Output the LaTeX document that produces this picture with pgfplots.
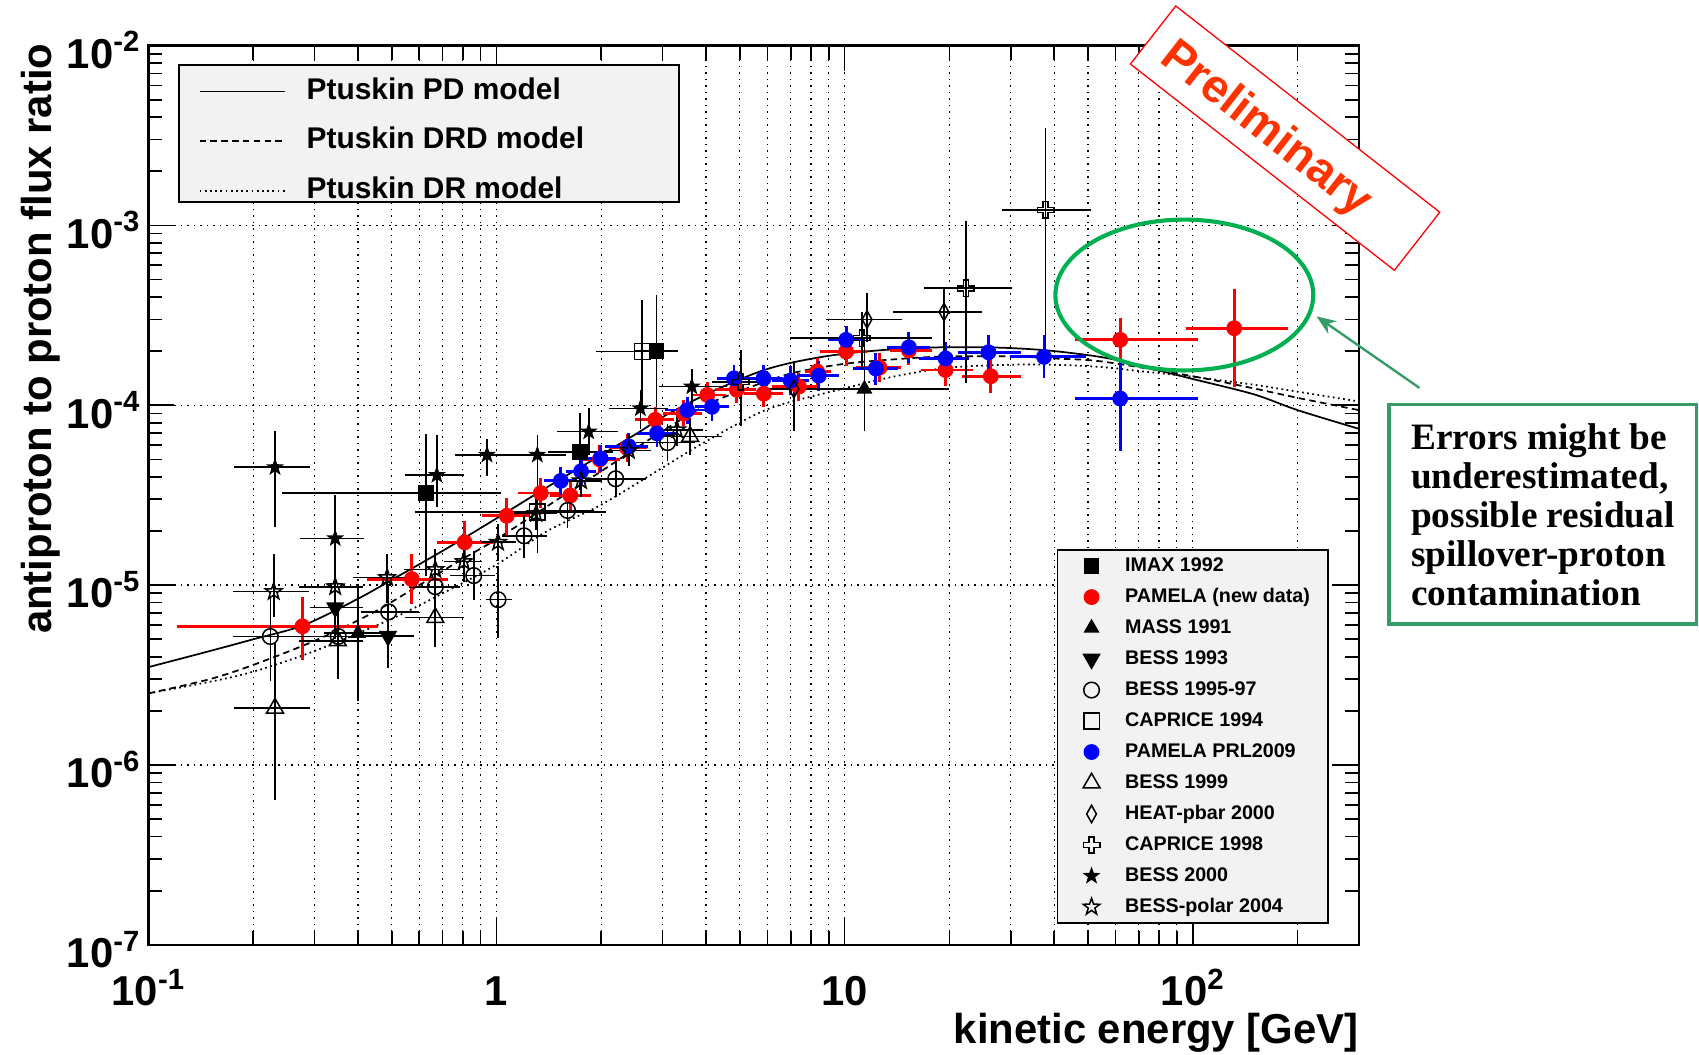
\documentclass[border=0pt]{standalone}
\usepackage{fontspec}
\setmainfont{Liberation Sans}
\newfontfamily\timesf{Liberation Serif}
\usepackage{pgfplots}
\pgfplotsset{compat=1.18}
\usetikzlibrary{arrows.meta}

\definecolor{pamred}{RGB}{255,0,0}
\definecolor{pamblue}{RGB}{0,0,255}
\definecolor{legfill}{RGB}{242,242,242}
\definecolor{ellgreen}{RGB}{0,176,80}
\definecolor{boxgreen}{RGB}{55,155,105}
\definecolor{prelim}{RGB}{255,51,0}

% ROOT-like markers
\def\starpath{%
  \pgfpathmoveto{\pgfqpoint{0pt}{\pgfplotmarksize}}%
  \pgfpathlineto{\pgfqpoint{-0.235\pgfplotmarksize}{0.324\pgfplotmarksize}}%
  \pgfpathlineto{\pgfqpoint{-0.951\pgfplotmarksize}{0.309\pgfplotmarksize}}%
  \pgfpathlineto{\pgfqpoint{-0.380\pgfplotmarksize}{-0.124\pgfplotmarksize}}%
  \pgfpathlineto{\pgfqpoint{-0.588\pgfplotmarksize}{-0.809\pgfplotmarksize}}%
  \pgfpathlineto{\pgfqpoint{0pt}{-0.4\pgfplotmarksize}}%
  \pgfpathlineto{\pgfqpoint{0.588\pgfplotmarksize}{-0.809\pgfplotmarksize}}%
  \pgfpathlineto{\pgfqpoint{0.380\pgfplotmarksize}{-0.124\pgfplotmarksize}}%
  \pgfpathlineto{\pgfqpoint{0.951\pgfplotmarksize}{0.309\pgfplotmarksize}}%
  \pgfpathlineto{\pgfqpoint{0.235\pgfplotmarksize}{0.324\pgfplotmarksize}}%
  \pgfpathclose}
\pgfdeclareplotmark{fstar}{\starpath\pgfusepathqfillstroke}
\pgfdeclareplotmark{ostar}{\starpath\pgfusepathqstroke}
\pgfdeclareplotmark{ocross}{%
  \pgfpathmoveto{\pgfqpoint{0.3\pgfplotmarksize}{\pgfplotmarksize}}%
  \pgfpathlineto{\pgfqpoint{0.3\pgfplotmarksize}{0.3\pgfplotmarksize}}%
  \pgfpathlineto{\pgfqpoint{\pgfplotmarksize}{0.3\pgfplotmarksize}}%
  \pgfpathlineto{\pgfqpoint{\pgfplotmarksize}{-0.3\pgfplotmarksize}}%
  \pgfpathlineto{\pgfqpoint{0.3\pgfplotmarksize}{-0.3\pgfplotmarksize}}%
  \pgfpathlineto{\pgfqpoint{0.3\pgfplotmarksize}{-\pgfplotmarksize}}%
  \pgfpathlineto{\pgfqpoint{-0.3\pgfplotmarksize}{-\pgfplotmarksize}}%
  \pgfpathlineto{\pgfqpoint{-0.3\pgfplotmarksize}{-0.3\pgfplotmarksize}}%
  \pgfpathlineto{\pgfqpoint{-\pgfplotmarksize}{-0.3\pgfplotmarksize}}%
  \pgfpathlineto{\pgfqpoint{-\pgfplotmarksize}{0.3\pgfplotmarksize}}%
  \pgfpathlineto{\pgfqpoint{-0.3\pgfplotmarksize}{0.3\pgfplotmarksize}}%
  \pgfpathlineto{\pgfqpoint{-0.3\pgfplotmarksize}{\pgfplotmarksize}}%
  \pgfpathclose\pgfusepathqstroke}

\pgfplotsset{
  /pgfplots/table/lohi/.style={x=x, y=y,
    x error plus expr=\thisrow{xh}-\thisrow{x},
    x error minus expr=\thisrow{x}-\thisrow{xl},
    y error plus expr=\thisrow{yh}-\thisrow{y},
    y error minus expr=\thisrow{y}-\thisrow{yl}},
  dset/.style={only marks, line width=0.7pt,
    error bars/x dir=both, error bars/y dir=both,
    error bars/x explicit, error bars/y explicit,
    error bars/error bar style={line width=0.75pt},
    error bars/error mark options={mark size=2.2pt, line width=0.75pt}},
  pset/.style={dset,
    error bars/error bar style={line width=1.3pt},
    error bars/error mark options={mark size=2.6pt, line width=1.3pt}},
}

\begin{document}
\begin{tikzpicture}
\useasboundingbox (-68.5pt,-50.5pt) rectangle (715.5pt,436pt);

\begin{axis}[at={(0pt,0pt)}, anchor=south west,
  width=558.5pt, height=415pt, scale only axis,
  xmode=log, ymode=log, xmin=0.1, xmax=300, ymin=1e-7, ymax=1e-2,
  axis line style={line width=1pt},
  tick style={line width=0.8pt, black},
  major tick length=12pt, minor tick length=6.5pt,
  tick pos=both, tick align=inside,
  xtick={0.1,1,10,100},
  xticklabels={10\textsuperscript{-1},1,10,10\textsuperscript{2}},
  minor xtick={0.2,0.3,0.4,0.5,0.6,0.7,0.8,0.9,2,3,4,5,6,7,8,9,20,30,40,50,60,70,80,90,200},
  ytick={1e-7,1e-6,1e-5,1e-4,1e-3,1e-2},
  yticklabels={10\textsuperscript{-7},10\textsuperscript{-6},10\textsuperscript{-5},10\textsuperscript{-4},10\textsuperscript{-3},10\textsuperscript{-2}},
  minor ytick={2e-7,3e-7,4e-7,5e-7,6e-7,7e-7,8e-7,9e-7,
               2e-6,3e-6,4e-6,5e-6,6e-6,7e-6,8e-6,9e-6,
               2e-5,3e-5,4e-5,5e-5,6e-5,7e-5,8e-5,9e-5,
               2e-4,3e-4,4e-4,5e-4,6e-4,7e-4,8e-4,9e-4,
               2e-3,3e-3,4e-3,5e-3,6e-3,7e-3,8e-3,9e-3},
  xmajorgrids, xminorgrids, ymajorgrids, yminorgrids=false,
  major grid style={line width=0.6pt, black, dash pattern=on 0.7pt off 2.3pt},
  minor grid style={line width=0.6pt, black, dash pattern=on 0.7pt off 2.3pt},
  tick label style={font=\fontsize{19.3}{22}\selectfont\bfseries},
  xticklabel style={anchor=base, inner sep=0pt, yshift=-28pt},
  yticklabel style={anchor=base east, inner sep=0pt, xshift=-3.5pt, yshift=-10.5pt},
  label style={font=\fontsize{19.3}{22}\selectfont\bfseries},
  xlabel={kinetic energy [GeV]},
  ylabel={antiproton to proton flux ratio},
  xlabel style={at={(rel axis cs:1,-0.1096)}, anchor=base east, inner sep=0pt},
  ylabel style={at={(rel axis cs:-0.0800,1.0024)}, anchor=base east, inner sep=0pt},
  legend style={at={(rel axis cs:0.0412,0.9651)}, anchor=north west,
    draw=none, fill=none, inner sep=0pt,
    font=\fontsize{13.8}{16}\selectfont\bfseries,
    row sep=10pt, column sep=9.5pt,
    nodes={inner sep=0pt, text height=10pt, text depth=3pt}},
  legend cell align=left,
  legend image code/.code={\draw[#1] (0pt,0pt) -- (39.5pt,0pt);},
]
\addplot[black, line width=0.8pt, smooth] table[row sep=\\]{
x y\\
0.1 3.5e-6\\ 0.15 4.3e-6\\ 0.2 5.0e-6\\ 0.28 6.0e-6\\ 0.4 8.4e-6\\
0.5 1.07e-5\\ 0.7 1.55e-5\\ 1 2.35e-5\\ 1.43 3.6e-5\\ 2 5.3e-5\\
2.6 7.2e-5\\ 3 8.6e-5\\ 4 1.15e-4\\ 5.6 1.52e-4\\ 7 1.72e-4\\
9.3 1.9e-4\\ 13 2.03e-4\\ 19 2.1e-4\\ 28 2.09e-4\\ 38 2.02e-4\\
50 1.9e-4\\ 60 1.79e-4\\ 80 1.56e-4\\ 100 1.4e-4\\ 150 1.15e-4\\
200 9.4e-5\\ 300 7.4e-5\\
};
\addlegendentry{Ptuskin PD model}
\addplot[black, line width=0.8pt, smooth, dash pattern=on 3pt off 2pt] table[row sep=\\]{
x y\\
0.1 2.5e-6\\ 0.15 3.0e-6\\ 0.2 3.6e-6\\ 0.3 4.9e-6\\ 0.44 7.0e-6\\
0.6 1.0e-5\\ 0.8 1.4e-5\\ 1 1.8e-5\\ 1.5 3.0e-5\\ 2 4.3e-5\\
3 7.2e-5\\ 4 1.0e-4\\ 5 1.2e-4\\ 7 1.5e-4\\ 10 1.7e-4\\
15 1.82e-4\\ 20 1.87e-4\\ 30 1.87e-4\\ 40 1.82e-4\\ 55 1.75e-4\\
100 1.45e-4\\ 150 1.24e-4\\ 200 1.1e-4\\ 300 9.4e-5\\
};
\addlegendentry{Ptuskin DRD model}
\addplot[black, line width=0.8pt, smooth, dash pattern=on 0.8pt off 1.6pt] table[row sep=\\]{
x y\\
0.1 2.5e-6\\ 0.15 2.9e-6\\ 0.2 3.3e-6\\ 0.3 4.3e-6\\ 0.5 6.5e-6\\
0.7 9.0e-6\\ 1 1.3e-5\\ 1.4 2.0e-5\\ 2 2.8e-5\\ 3 4.5e-5\\
4 6.3e-5\\ 6 9.5e-5\\ 9.3 1.2e-4\\ 14 1.45e-4\\ 20 1.62e-4\\
30 1.68e-4\\ 40 1.68e-4\\ 55 1.63e-4\\ 70 1.55e-4\\ 100 1.44e-4\\
150 1.3e-4\\ 200 1.19e-4\\ 300 1.05e-4\\
};
\addlegendentry{Ptuskin DR model}
\draw[fill=legfill, line width=0.9pt] (rel axis cs:0.0251,0.8265) rectangle (rel axis cs:0.4387,0.9783);
\end{axis}

\begin{axis}[at={(0pt,0pt)}, anchor=south west,
  width=558.5pt, height=415pt, scale only axis,
  xmode=log, ymode=log, xmin=0.1, xmax=300, ymin=1e-7, ymax=1e-2,
  hide axis,
  legend style={at={(rel axis cs:0.7717,0.4325)}, anchor=north west,
    draw=none, fill=none, inner sep=0pt,
    font=\fontsize{9.1}{11}\selectfont\bfseries,
    row sep=5.3pt, column sep=11.5pt,
    nodes={inner sep=0pt, text height=7pt, text depth=2pt}},
  legend cell align=left,
  legend image code/.code={\path[draw=none, fill=none] (-4pt,-3pt) rectangle (4pt,3pt); \draw[#1] plot coordinates {(0pt,0pt)};},
]
\draw[fill=legfill, line width=0.9pt] (rel axis cs:0.7511,0.0241) rectangle (rel axis cs:0.9749,0.4386);

% IMAX 1992
\addplot[dset, black, mark=square*, mark size=3.3pt] table[lohi, row sep=\\]{
x y xl xh yl yh\\
0.628 3.24e-5 0.25 1.0 1.2e-5 6.5e-5\\
1.74 5.5e-5 1.45 2.1 3.6e-5 8.5e-5\\
2.88 2.01e-4 2.57 3.21 8.9e-5 3.85e-4\\
};
\addlegendentry{IMAX 1992}
% PAMELA (new data)
\addplot[pset, color=pamred, mark=*, mark size=3.3pt] table[lohi, row sep=\\]{
x y xl xh yl yh\\
0.277 5.9e-6 0.125 0.44 4.1e-6 8.0e-6\\
0.571 1.08e-5 0.44 0.70 8.4e-6 1.38e-5\\
0.81 1.73e-5 0.70 0.94 1.44e-5 2.11e-5\\
1.07 2.43e-5 0.94 1.20 2.05e-5 2.85e-5\\
1.34 3.25e-5 1.20 1.48 2.9e-5 3.65e-5\\
1.63 3.15e-5 1.48 1.80 2.8e-5 3.55e-5\\
1.98 5.0e-5 1.80 2.18 4.5e-5 5.6e-5\\
2.37 5.8e-5 2.18 2.60 5.2e-5 6.4e-5\\
2.86 8.3e-5 2.60 3.12 7.5e-5 9.1e-5\\
3.45 9.0e-5 3.12 3.75 8.2e-5 9.9e-5\\
4.03 1.14e-4 3.75 4.40 1.04e-4 1.25e-4\\
4.90 1.22e-4 4.40 5.35 1.11e-4 1.34e-4\\
5.86 1.16e-4 5.35 6.40 1.05e-4 1.28e-4\\
7.39 1.27e-4 6.40 8.00 1.14e-4 1.41e-4\\
8.34 1.54e-4 8.00 8.80 1.38e-4 1.70e-4\\
10.1 1.99e-4 8.8 11.2 1.78e-4 2.22e-4\\
12.6 1.62e-4 11.2 14.0 1.45e-4 1.81e-4\\
15.3 2.02e-4 14.0 17.2 1.80e-4 2.26e-4\\
19.5 1.57e-4 17.2 22.5 1.38e-4 1.78e-4\\
26.3 1.45e-4 22.5 31.0 1.25e-4 1.68e-4\\
61.9 2.31e-4 47.7 99.8 1.82e-4 2.86e-4\\
131.6 2.68e-4 99.0 181 1.35e-4 4.1e-4\\
};
\addlegendentry{PAMELA (new data)}
% MASS 1991
\addplot[dset, black, mark=triangle*, mark size=3.6pt] table[lohi, row sep=\\]{
x y xl xh yl yh\\
0.40 5.4e-6 0.33 0.48 2.4e-6 9.6e-6\\
11.4 1.23e-4 7.2 19.3 7.6e-5 2.0e-4\\
};
\addlegendentry{MASS 1991}
% BESS 1993
\addplot[dset, black, mark=triangle*, mark size=4.2pt, mark options={rotate=180}] table[lohi, row sep=\\]{
x y xl xh yl yh\\
0.344 7.5e-6 0.30 0.40 5.3e-6 1.0e-5\\
0.488 5.2e-6 0.42 0.56 3.7e-6 7.3e-6\\
};
\addlegendentry{BESS 1993}
% BESS 1995-97
\addplot[dset, black, mark=o, mark size=3.6pt] table[lohi, row sep=\\]{
x y xl xh yl yh\\
0.224 5.18e-6 0.18 0.28 3.1e-6 8.0e-6\\
0.351 5.18e-6 0.28 0.42 3.3e-6 7.5e-6\\
0.49 7.1e-6 0.42 0.58 5.0e-6 9.5e-6\\
0.667 9.8e-6 0.58 0.76 7.5e-6 1.25e-5\\
0.86 1.13e-5 0.76 0.96 8.8e-6 1.45e-5\\
1.01 8.3e-6 0.96 1.07 5.4e-6 1.2e-5\\
1.2 1.88e-5 1.07 1.35 1.5e-5 2.3e-5\\
1.6 2.6e-5 1.35 1.85 2.2e-5 3.1e-5\\
2.2 3.9e-5 1.85 2.6 3.3e-5 4.6e-5\\
3.1 6.2e-5 2.6 3.6 5.2e-5 7.4e-5\\
};
\addlegendentry{BESS 1995-97}
% CAPRICE 1994
\addplot[dset, black, mark=square, mark size=3.6pt] table[lohi, row sep=\\]{
x y xl xh yl yh\\
1.31 2.55e-5 0.6 2.0 1.6e-5 3.8e-5\\
2.62 1.99e-4 1.99 2.86 1.0e-4 3.6e-4\\
};
\addlegendentry{CAPRICE 1994}
% PAMELA PRL2009
\addplot[pset, color=pamblue, mark=*, mark size=3.3pt] table[lohi, row sep=\\]{
x y xl xh yl yh\\
1.53 3.8e-5 1.42 1.64 3.4e-5 4.2e-5\\
1.75 4.3e-5 1.64 1.86 3.9e-5 4.75e-5\\
1.99 5.07e-5 1.86 2.13 4.6e-5 5.6e-5\\
2.40 5.9e-5 2.13 2.63 5.35e-5 6.5e-5\\
2.89 6.98e-5 2.63 3.17 6.3e-5 7.7e-5\\
3.53 9.4e-5 3.17 3.85 8.5e-5 1.04e-4\\
4.16 9.8e-5 3.85 4.47 8.8e-5 1.09e-4\\
4.81 1.41e-4 4.47 5.30 1.27e-4 1.56e-4\\
5.85 1.41e-4 5.30 6.40 1.27e-4 1.56e-4\\
7.00 1.37e-4 6.40 7.60 1.22e-4 1.53e-4\\
8.43 1.46e-4 7.60 9.30 1.29e-4 1.64e-4\\
10.1 2.31e-4 9.30 11.0 2.05e-4 2.58e-4\\
12.3 1.60e-4 11.0 13.7 1.40e-4 1.82e-4\\
15.3 2.10e-4 13.7 17.0 1.85e-4 2.38e-4\\
19.5 1.82e-4 17.0 22.0 1.58e-4 2.08e-4\\
25.9 1.97e-4 22.0 31.0 1.68e-4 2.30e-4\\
37.4 1.86e-4 31.0 47.7 1.53e-4 2.30e-4\\
61.9 1.09e-4 47.7 99.8 6.0e-5 1.61e-4\\
};
\addlegendentry{PAMELA PRL2009}
% BESS 1999
\addplot[dset, black, mark=triangle, mark size=4.5pt] table[lohi, row sep=\\]{
x y xl xh yl yh\\
0.231 2.07e-6 0.182 0.282 6.8e-7 4.5e-6\\
0.35 4.9e-6 0.28 0.40 3.2e-6 7.2e-6\\
0.667 6.6e-6 0.563 0.783 4.8e-6 1.02e-5\\
3.6 6.7e-5 3.0 4.3 5.6e-5 8.0e-5\\
};
\addlegendentry{BESS 1999}
% HEAT-pbar 2000
\addplot[dset, black, mark=diamond, mark size=4pt, mark options={xscale=0.75}] table[lohi, row sep=\\]{
x y xl xh yl yh\\
7.15 1.23e-4 6.0 8.5 7.6e-5 1.65e-4\\
11.6 3.0e-4 9.1 14.2 2.4e-4 3.95e-4\\
19.3 3.3e-4 14.2 24.0 2.1e-4 4.2e-4\\
};
\addlegendentry{HEAT-pbar 2000}
% CAPRICE 1998
\addplot[dset, black, mark=ocross, mark size=3.8pt] table[lohi, row sep=\\]{
x y xl xh yl yh\\
5.03 1.35e-4 4.3 5.9 8.1e-5 1.9e-4\\
11.2 2.36e-4 7.2 17.3 1.7e-4 3.1e-4\\
22.3 4.47e-4 17.4 29.4 1.42e-4 1.0e-3\\
37.8 1.22e-3 29.3 49.4 1.8e-4 3.26e-3\\
};
\addlegendentry{CAPRICE 1998}
% BESS 2000
\addplot[dset, black, mark=fstar, mark size=3.3pt] table[lohi, row sep=\\]{
x y xl xh yl yh\\
0.231 4.52e-5 0.182 0.282 2.23e-5 6.8e-5\\
0.344 1.82e-5 0.282 0.404 1.09e-5 2.98e-5\\
0.674 4.09e-5 0.563 0.783 2.9e-5 6.4e-5\\
0.939 5.3e-5 0.783 1.10 4.3e-5 6.1e-5\\
1.31 5.3e-5 1.10 1.53 4.3e-5 6.4e-5\\
1.84 7.13e-5 1.54 2.17 5.6e-5 9.1e-5\\
2.59 9.6e-5 2.17 3.02 7.8e-5 1.15e-4\\
3.64 1.27e-4 3.02 4.44 1.05e-4 1.5e-4\\
};
\addlegendentry{BESS 2000}
% BESS-polar 2004
\addplot[dset, black, mark=ostar, mark size=4pt] table[lohi, row sep=\\]{
x y xl xh yl yh\\
0.229 9.2e-6 0.18 0.28 7.1e-6 1.4e-5\\
0.344 9.8e-6 0.28 0.40 7.5e-6 1.3e-5\\
0.485 1.1e-5 0.40 0.56 8.5e-6 1.4e-5\\
0.667 1.22e-5 0.56 0.76 1.0e-5 1.5e-5\\
0.805 1.35e-5 0.73 0.88 1.1e-5 1.6e-5\\
1.01 1.73e-5 0.93 1.10 1.45e-5 2.05e-5\\
1.3 2.5e-5 1.15 1.45 2.15e-5 2.9e-5\\
1.75 3.8e-5 1.55 1.95 3.3e-5 4.4e-5\\
2.4 5.6e-5 2.1 2.7 4.9e-5 6.4e-5\\
3.3 7.3e-5 2.9 3.8 6.3e-5 8.5e-5\\
};
\addlegendentry{BESS-polar 2004}
\end{axis}

% annotations
\draw[ellgreen, line width=1.9pt] (478pt,299.85pt) ellipse [x radius=59.5pt, y radius=34.8pt];
\draw[boxgreen, line width=1.1pt, -{Stealth[length=9pt, width=7pt]}] (586.5pt,257pt) -- (539pt,290pt);
\draw[boxgreen, line width=1.5pt, fill=white] (572.5pt,148pt) rectangle (714.5pt,249.5pt);
\node[anchor=north west, align=left, inner sep=0pt, font=\timesf\bfseries\fontsize{17.2}{18}\selectfont] at (582.5pt,240.5pt)
  {Errors might be\\underestimated,\\possible residual\\spillover-proton\\contamination};
\begin{scope}[shift={(524.5pt,372.25pt)}, rotate=-38]
  \draw[red, line width=0.6pt, fill=white] (-77.3pt,-17pt) rectangle (77.3pt,17pt);
  \node[transform shape, anchor=base west, inner sep=0pt, text=prelim, font=\fontsize{21.5}{21.5}\selectfont\bfseries] at (-68pt,-8.2pt) {Preliminary};
\end{scope}
\end{tikzpicture}
\end{document}
